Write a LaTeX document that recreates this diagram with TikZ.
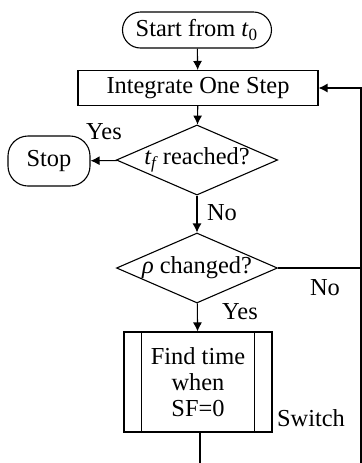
\documentclass[tikz,border=0pt]{standalone}
\usepackage{fontspec}
\setmainfont{Liberation Serif}
\usetikzlibrary{shapes.geometric,arrows.meta}

\begin{document}
\begin{tikzpicture}[x=0.5pt, y=-0.5pt, line width=0.55pt, >={Latex[length=4.5pt,width=4.5pt]},
    every node/.style={font=\fontsize{12.2}{13}\selectfont, inner sep=0pt},
    terminal/.style={draw, rounded corners=9pt, minimum width=74.5pt, minimum height=18pt},
    process/.style={draw, minimum width=120pt, minimum height=17.5pt},
    decision/.style={draw, diamond, aspect=2.3, minimum width=80.5pt, minimum height=35pt},
    predef/.style={draw, minimum width=74pt, minimum height=50pt, align=center}]
    \useasboundingbox (0,0) rectangle (362,463);

    % Cajas del diagrama de flujo.
    \node[terminal] (start) at (197,30) {Start from \textit{t}\textsubscript{0}};
    \node[process] (integ) at (198,88) {Integrate One Step};
    \node[decision] (reached) at (197,160) {\textit{t\textsubscript{f}} reached?};
    \node[terminal, rounded corners=10pt, minimum width=41pt, minimum height=25pt] (stop) at (49,161) {Stop};
    \node[decision] (changed) at (197,268) {\textit{ρ} changed?};
    \node[predef] (find) at (198,382) {Find time\\when\\SF=0};
    \draw ([xshift=9pt]find.north west) -- ([xshift=9pt]find.south west);
    \draw ([xshift=-9pt]find.north east) -- ([xshift=-9pt]find.south east);

    % Conexiones y lazo de vuelta.
    \coordinate (loopend) at (361,463);
    \coordinate (switchend) at (200,463);
    \draw[->] (start) -- (integ);
    \draw[->] (integ) -- (reached);
    \draw[->] (reached) -- (stop);
    \draw[->] (reached) -- (changed);
    \draw[->] (changed) -- (find);
    \draw (find.south -| switchend) -- (switchend);
    \draw (changed.east) -- (changed.east -| loopend);
    \draw[->] (loopend) |- (integ.east);

    % Etiquetas.
    \node (yes1) at (104,132) {Yes};
    \node (no1) at (222,213) {No};
    \node (no2) at (325,288) {No};
    \node (yes2) at (240,312) {Yes};
    \node (switch) at (311,418) {Switch};
\end{tikzpicture}
\end{document}
